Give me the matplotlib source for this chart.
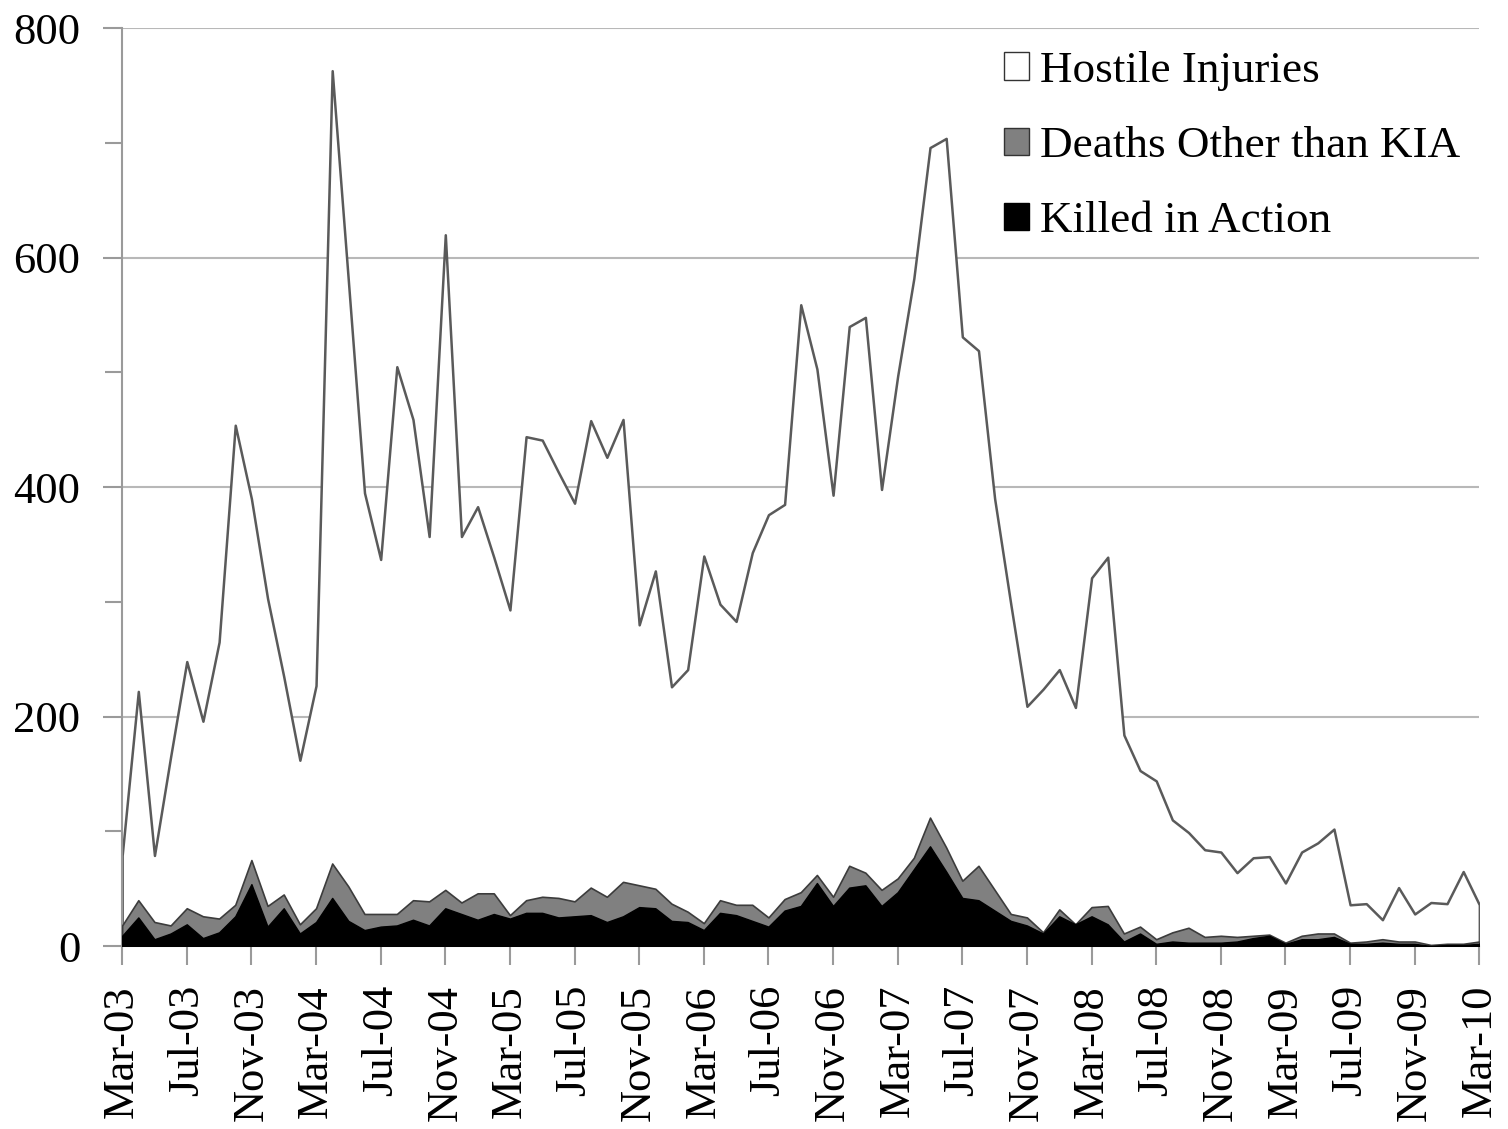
import matplotlib
matplotlib.use("Agg")
import matplotlib.pyplot as plt
from matplotlib.patches import Patch
import numpy as np

# monthly values, Mar-03 .. Mar-10
hostile_injuries = [79, 222, 79, 165, 248, 196, 265, 454, 390, 303,
                    235, 162, 227, 763, 580, 395, 337, 505, 459, 357,
                    620, 357, 383, 339, 293, 444, 441, 413, 386, 458,
                    426, 459, 280, 327, 226, 241, 340, 298, 283, 343,
                    376, 385, 559, 503, 393, 540, 548, 398, 497, 582,
                    696, 704, 531, 519, 390, 298, 209, 224, 241, 208,
                    321, 339, 184, 153, 144, 110, 99, 84, 82, 64,
                    77, 78, 55, 82, 90, 102, 36, 37, 23, 51,
                    28, 38, 37, 65, 36]

# top of the grey band (all deaths)
total_deaths = [18, 40, 21, 18, 33, 26, 24, 36, 75, 35,
                45, 19, 33, 72, 52, 28, 28, 28, 40, 39,
                49, 38, 46, 46, 27, 40, 43, 42, 39, 51,
                43, 56, 53, 50, 37, 30, 20, 40, 36, 36,
                25, 41, 47, 62, 43, 70, 64, 49, 59, 77,
                112, 86, 57, 70, 49, 28, 25, 12, 32, 19,
                34, 35, 11, 17, 6, 12, 16, 8, 9, 8,
                9, 10, 3, 9, 11, 11, 3, 4, 6, 4,
                4, 1, 2, 2, 4]

killed_in_action = [9, 25, 6, 11, 19, 7, 12, 26, 54, 17,
                    33, 11, 21, 42, 22, 14, 17, 18, 23, 18,
                    33, 28, 23, 28, 24, 29, 29, 25, 26, 27,
                    21, 26, 34, 33, 22, 21, 14, 29, 27, 22,
                    17, 31, 35, 55, 35, 51, 53, 35, 47, 67,
                    87, 65, 42, 40, 31, 22, 18, 11, 26, 19,
                    26, 19, 4, 11, 2, 4, 3, 3, 3, 4,
                    7, 9, 2, 6, 6, 8, 2, 2, 3, 2,
                    2, 0, 1, 1, 2]

tick_labels = ['Mar-03', 'Jul-03', 'Nov-03', 'Mar-04', 'Jul-04', 'Nov-04',
               'Mar-05', 'Jul-05', 'Nov-05', 'Mar-06', 'Jul-06', 'Nov-06',
               'Mar-07', 'Jul-07', 'Nov-07', 'Mar-08', 'Jul-08', 'Nov-08',
               'Mar-09', 'Jul-09', 'Nov-09', 'Mar-10']

plt.rcParams['font.family'] = ['Liberation Serif', 'DejaVu Serif']

fig = plt.figure(figsize=(15.08, 11.29), dpi=100)
ax = fig.add_axes([0.081, 0.162, 0.9, 0.813])

x = np.arange(len(hostile_injuries))
ax.fill_between(x, 0, hostile_injuries, facecolor='white', edgecolor='#5a5a5a',
                linewidth=1.8, zorder=2)
ax.fill_between(x, 0, total_deaths, facecolor='#808080', edgecolor='#3c3c3c',
                linewidth=1.2, zorder=3)
ax.fill_between(x, 0, killed_in_action, facecolor='black', edgecolor='black',
                linewidth=1.0, zorder=4)

ax.set_xlim(0, len(x) - 1)
ax.set_ylim(0, 800)

# axes
ax.set_yticks([0, 200, 400, 600, 800])
ax.set_yticks([100, 300, 500, 700], minor=True)
ax.yaxis.grid(True, which='major', color='#b8b8b8', linewidth=1.5)
ax.set_axisbelow(True)
for s in ['top', 'right']:
    ax.spines[s].set_visible(False)
for s in ['left', 'bottom']:
    ax.spines[s].set_color('#9a9a9a')
    ax.spines[s].set_linewidth(1.5)

ax.tick_params(axis='y', which='major', length=14, width=1.5, color='#9a9a9a',
               labelsize=32, pad=16)
ax.tick_params(axis='y', which='minor', length=12, width=1.5, color='#9a9a9a')

ax.set_xticks(x[::4])
ax.set_xticklabels(tick_labels, rotation=90)
ax.tick_params(axis='x', length=14, width=1.5, color='#9a9a9a', labelsize=32, pad=14)

# legend
handles = [Patch(facecolor='white', edgecolor='#333333', linewidth=1.0),
           Patch(facecolor='#808080', edgecolor='#333333', linewidth=1.0),
           Patch(facecolor='black', edgecolor='black', linewidth=1.0)]
labels = ['Hostile Injuries', 'Deaths Other than KIA', 'Killed in Action']
ax.legend(handles, labels, loc='upper left', bbox_to_anchor=(0.64, 0.99),
          frameon=False, fontsize=32.5, handlelength=0.55, handleheight=0.55,
          handletextpad=0.25, labelspacing=0.78, borderaxespad=0.0, borderpad=0.3)

plt.savefig('out.png', dpi=100)
